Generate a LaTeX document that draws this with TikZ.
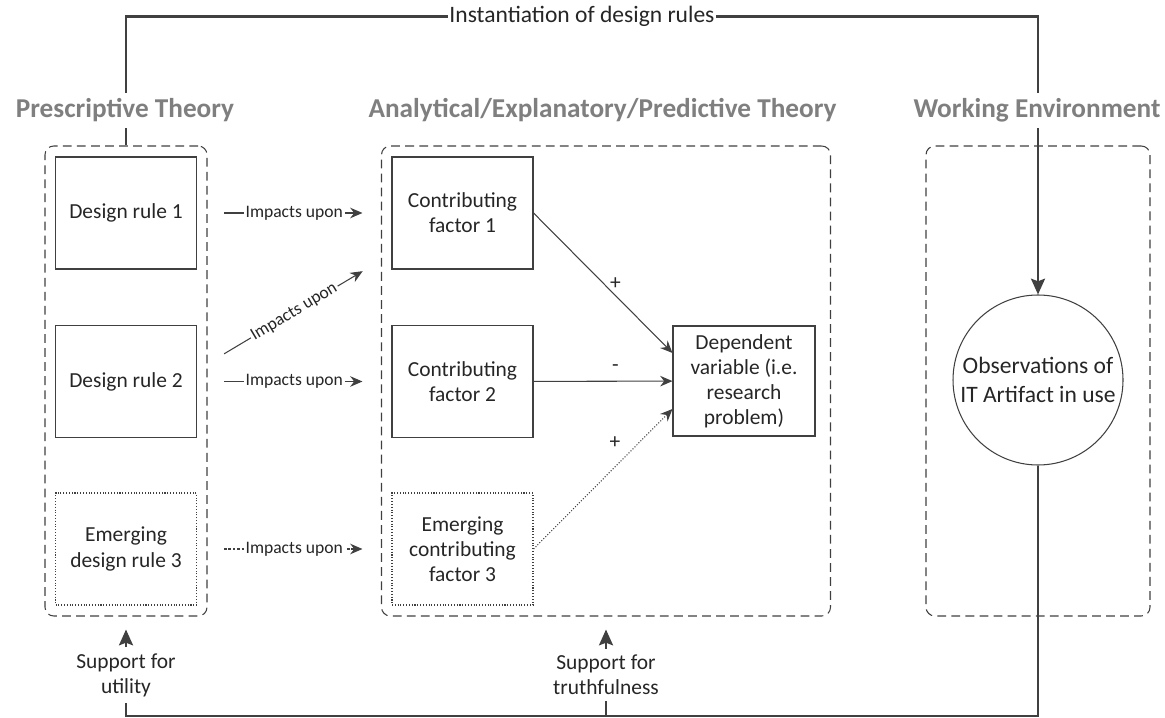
\documentclass[tikz,border=0pt]{standalone}
\usepackage{fontspec}
\setmainfont{Carlito}
\usetikzlibrary{arrows.meta, positioning}

\definecolor{linegray}{HTML}{404040}
\definecolor{headgray}{HTML}{7F7F7F}
\definecolor{textgray}{HTML}{262626}

\tikzset{
  frame/.style={draw=linegray, line width=0.6pt, dash pattern=on 5pt off 3pt,
    rounded corners=5pt, minimum height=9.4cm},
  rulebox/.style={draw=linegray, line width=0.6pt, minimum width=2.82cm,
    minimum height=2.24cm, align=center, text=textgray,
    font=\fontsize{12.2}{14.3}\selectfont},
  emerging/.style={rulebox, densely dotted},
  heading/.style={fill=white, text=headgray, anchor=base,
    font=\fontsize{15.5}{18}\selectfont\bfseries},
  flow/.style={draw=linegray, line width=1.2pt},
  impact/.style={draw=linegray, line width=0.6pt},
  impactlabel/.style={fill=white, inner sep=1pt, text=textgray,
    font=\fontsize{10}{12}\selectfont},
  sign/.style={text=textgray, font=\fontsize{12.2}{14.3}\selectfont},
  support/.style={align=center, text=textgray, font=\fontsize{12.2}{14.3}\selectfont}
}

\begin{document}
\begin{tikzpicture}
\useasboundingbox (0,0) rectangle (23.3,-14.36);

% the three areas
\node (prescr) at (2.52, -7.62) [frame, minimum width=3.24cm] {};
\node (theory) at (12.12, -7.62) [frame, minimum width=8.98cm] {};
\node (workenv) at (20.76, -7.62) [frame, minimum width=4.48cm] {};

\node (dr1) at (2.52, -4.26) [rulebox] {Design rule 1};
\node (dr2) at (2.52, -7.63) [rulebox] {Design rule 2};
\node (dr3) at (2.52, -10.98) [emerging] {Emerging\\design rule 3};

\node (cf1) at (9.25, -4.26) [rulebox] {Contributing\\factor 1};
\node (cf2) at (9.25, -7.63) [rulebox] {Contributing\\factor 2};
\node (cf3) at (9.25, -10.98) [emerging] {Emerging\\contributing\\factor 3};

\node (dv) at (14.88, -7.62) [rulebox, minimum width=2.84cm, minimum height=2.2cm]
  {Dependent\\variable (i.e.\\research\\problem)};

\node (obs) at (20.76, -7.6) [circle, draw=linegray, line width=0.6pt, minimum size=3.4cm,
  inner sep=0pt, align=center, text=textgray, font=\fontsize{13.4}{16.4}\selectfont]
  {Observations of\\IT Artifact in use};

\node (util) at (2.52, -13.5) [support] {Support for\\utility};
\node (truth) at (12.12, -13.5) [support] {Support for\\truthfulness};
\coordinate (bottom) at (0, -14.32);

\begin{scope}[>={Stealth[length=7pt, width=6pt]}]
    \draw[impact, ->, shorten <=0.54cm, shorten >=0.58cm] (dr1) -- node[impactlabel] {Impacts upon} (cf1);
    \draw[impact, ->, shorten <=0.63cm, shorten >=0.67cm] ([yshift=0.23cm]dr2.east)
      -- node[impactlabel, sloped] {Impacts upon} ([yshift=-0.82cm]cf1.west);
    \draw[impact, ->, shorten <=0.54cm, shorten >=0.58cm] (dr2) -- node[impactlabel] {Impacts upon} (cf2);
    \draw[impact, ->, dash pattern=on 1.5pt off 1pt, shorten <=0.54cm, shorten >=0.58cm] (dr3)
      -- node[impactlabel] {Impacts upon} (cf3);
\end{scope}

\begin{scope}[>={Stealth[length=7pt, width=6pt]}]
    \draw[impact, ->] (cf1.east) -- node[pos=0.59, above, sign] {+} ([yshift=0.56cm]dv.west);
    \draw[impact, ->] (cf2) -- node[pos=0.59, above=2pt, sign] {-} (dv);
    \draw[impact, ->, densely dotted] (cf3.east) -- node[pos=0.67, above left, sign] {+} ([yshift=-0.56cm]dv.west);
\end{scope}

\begin{scope}[>={Stealth[length=9pt, width=8pt, inset=1.5pt]}]
    \draw[flow, ->] (prescr.north) -- ++(0, 2.58) -| node[pos=0.25, fill=white, inner sep=1pt,
      text=textgray, font=\fontsize{13.4}{16}\selectfont] {Instantiation of design rules} (obs.north);
    \draw[flow] (obs.south) -- (obs.south |- bottom) -| (util.south);
    \draw[flow] (truth.south) -- (truth.south |- bottom);
    \draw[flow, ->, shorten >=0.26cm] (util) -- (prescr);
    \draw[flow, ->, shorten >=0.26cm] (truth) -- (theory);
\end{scope}

% headings over the lines
\node (hpre) at (2.5, -2.36) [heading] {Prescriptive Theory};
\node (htheo) at (12.05, -2.36) [heading] {Analytical/Explanatory/Predictive Theory};
\node (hwork) at (20.74, -2.36) [heading] {Working Environment};
\end{tikzpicture}
\end{document}
